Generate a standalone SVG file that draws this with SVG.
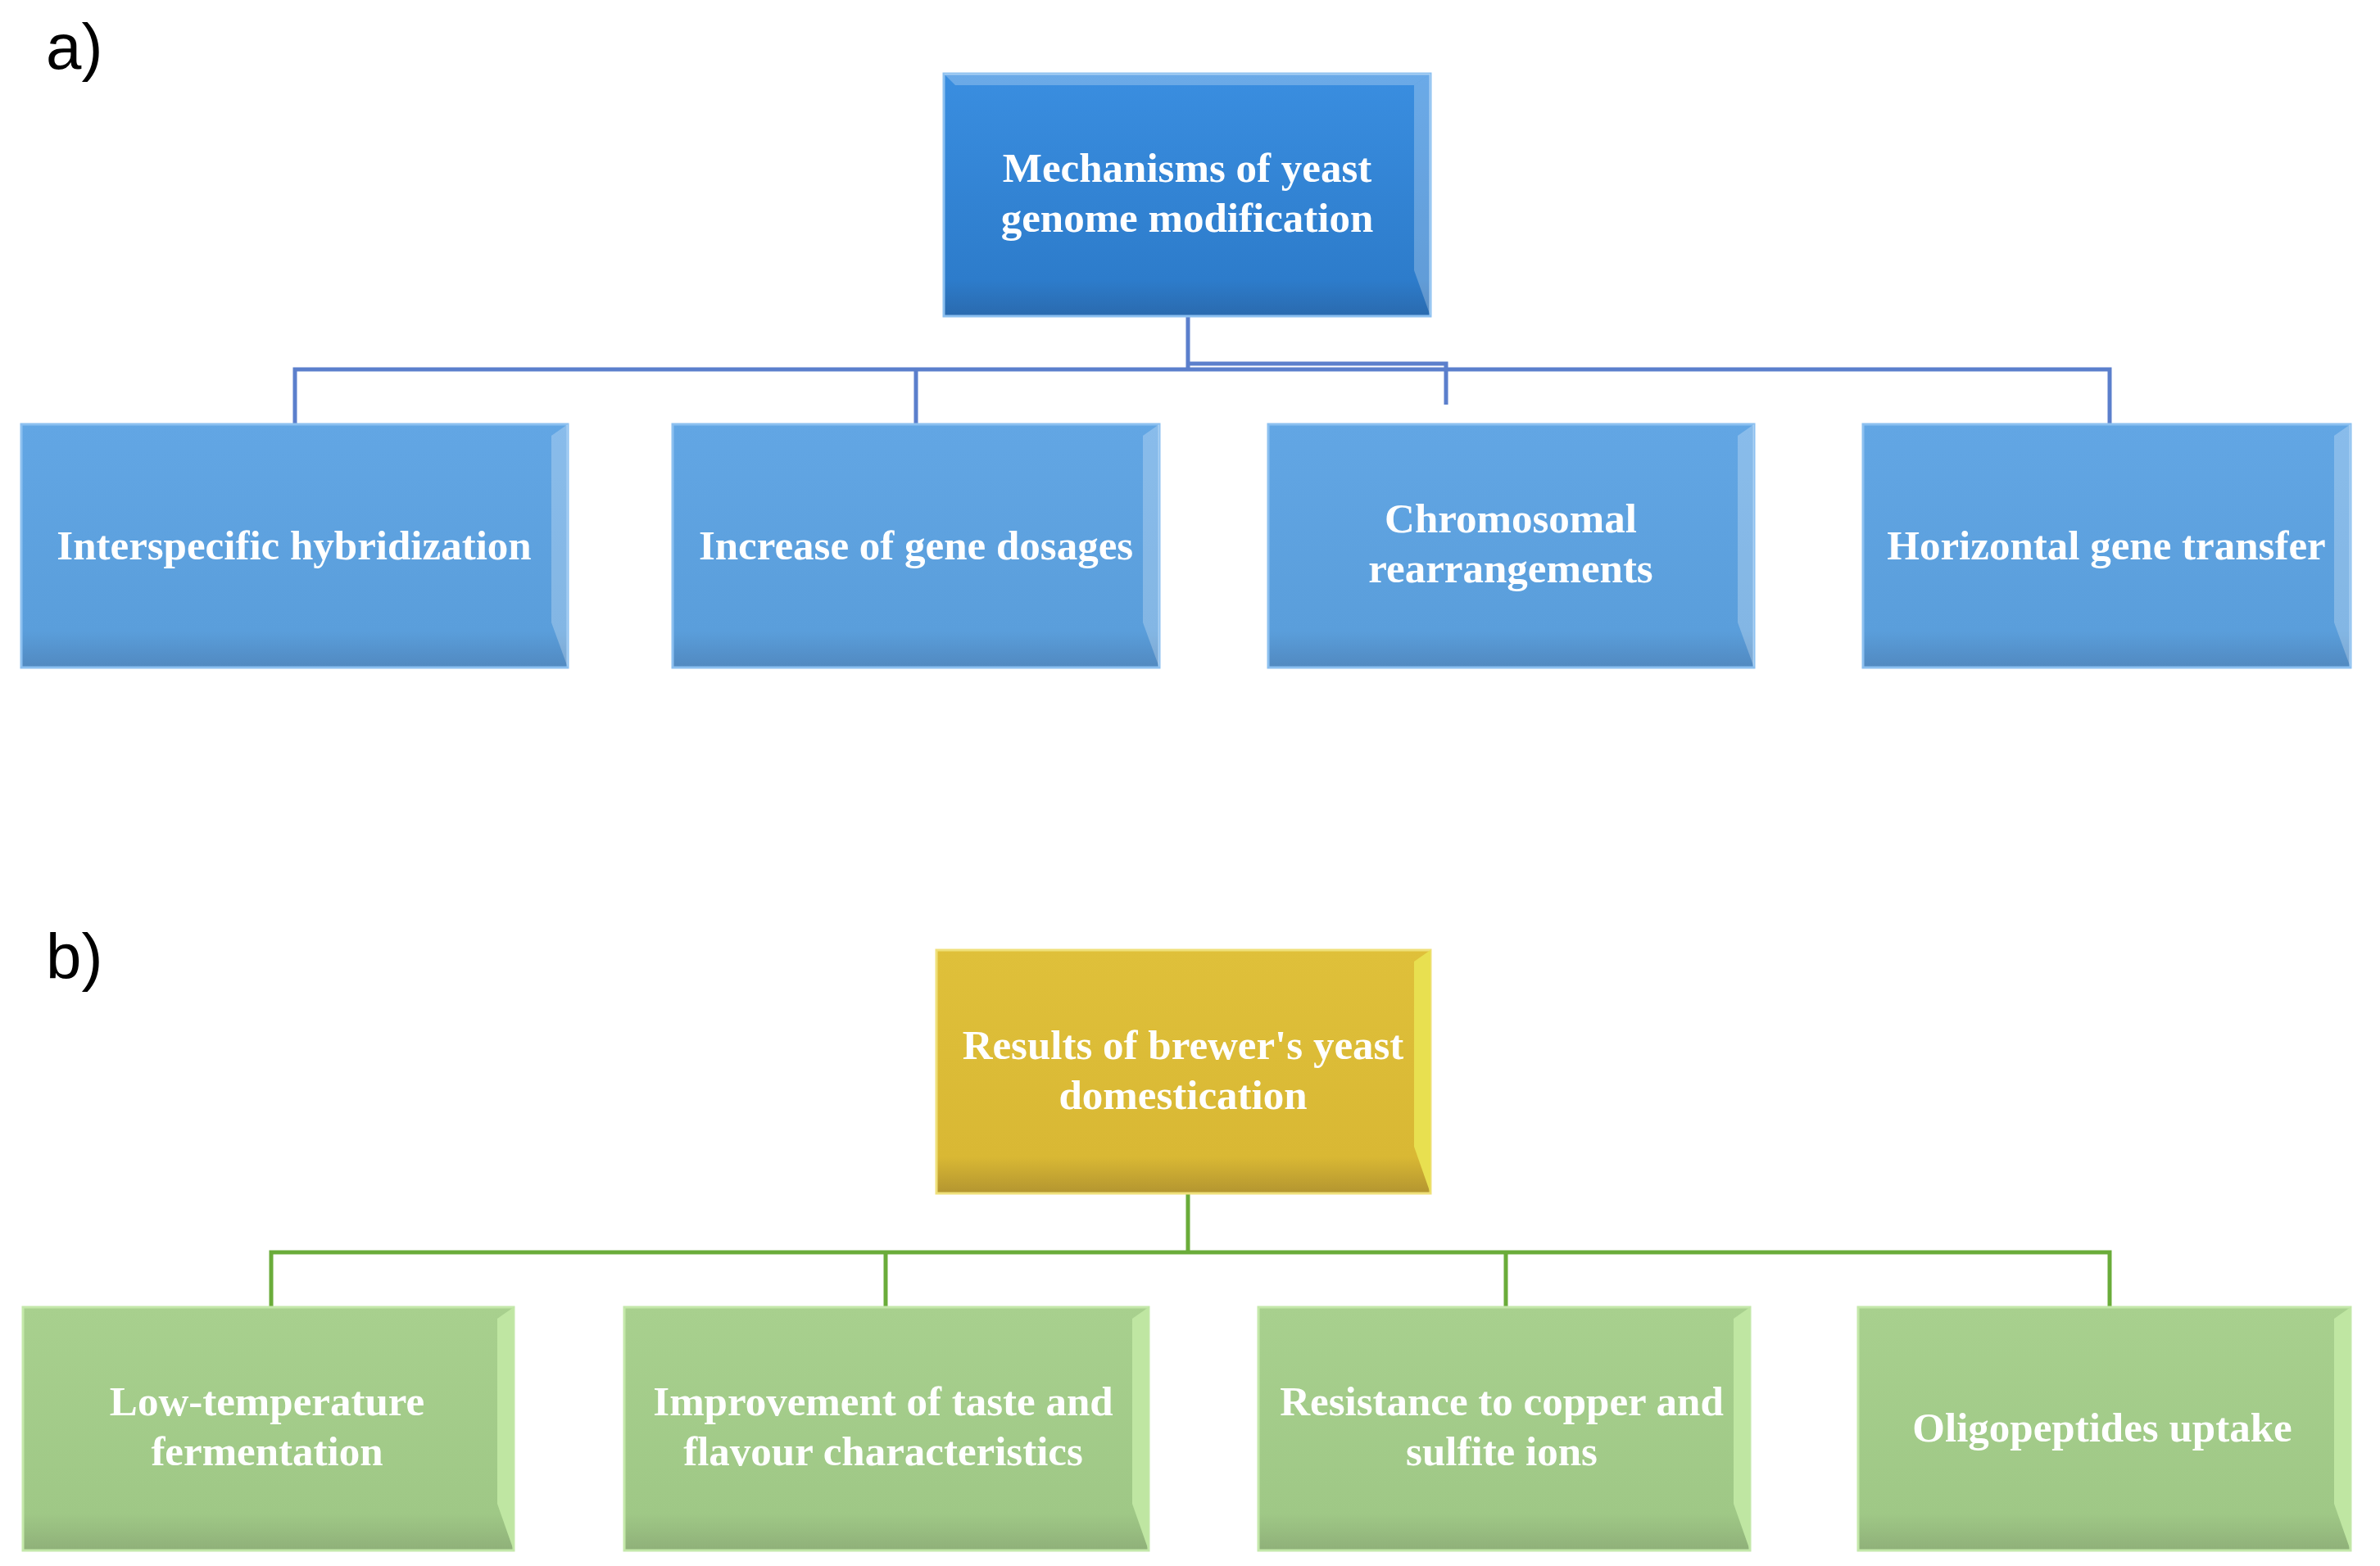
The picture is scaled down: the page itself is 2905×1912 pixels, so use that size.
<svg xmlns="http://www.w3.org/2000/svg" width="2905" height="1912" viewBox="0 0 2905 1912">
<style>
.t{font-family:"Liberation Serif","DejaVu Serif",serif;font-size:51px;font-weight:bold;fill:#fff;text-anchor:middle}
.lab{font-family:"Liberation Sans",Arial,sans-serif;font-size:78px;fill:#000}
.cb{fill:none;stroke:#5b7fcc;stroke-width:5}
.cg{fill:none;stroke:#6aac3a;stroke-width:5}
.hl{fill:#ffffff;opacity:0.25}
</style>
<defs>
<linearGradient id="gTop" x1="0" y1="0" x2="0" y2="1"><stop offset="0" stop-color="#3a8ee0"/><stop offset="0.85" stop-color="#2d7ccb"/><stop offset="1" stop-color="#2a6aae"/></linearGradient>
<linearGradient id="gBl" x1="0" y1="0" x2="0" y2="1"><stop offset="0" stop-color="#62a6e4"/><stop offset="0.85" stop-color="#5a9edb"/><stop offset="1" stop-color="#5189c0"/></linearGradient>
<linearGradient id="gGo" x1="0" y1="0" x2="0" y2="1"><stop offset="0" stop-color="#dfc03a"/><stop offset="0.85" stop-color="#d9b834"/><stop offset="1" stop-color="#b39530"/></linearGradient>
<linearGradient id="gGr" x1="0" y1="0" x2="0" y2="1"><stop offset="0" stop-color="#a8d08e"/><stop offset="0.85" stop-color="#9fc886"/><stop offset="1" stop-color="#8fb079"/></linearGradient>
</defs>
<text class="lab" x="56" y="84">a)</text>
<text class="lab" x="56" y="1195">b)</text>
<g id="connectors">
<path class="cb" d="M1450 386V451M360 518V451H2575V518M1118 451V518M1450 444H1765V494"/>
<path class="cg" d="M1450 1457V1529M331 1596V1529H2575V1596M1081 1529V1596M1838 1529V1596"/>
</g>
<g id="a0"><rect x="1152" y="90" width="594" height="296" fill="url(#gTop)" stroke="#8cc0f0" stroke-width="3"/><polygon class="hl" points="1152,90 1746,90 1726,104 1166,104"/><polygon class="hl" points="1726,104 1746,90 1746,386 1726,330"/>
<text class="t" x="1449" y="222">Mechanisms of yeast</text><text class="t" x="1449" y="283">genome modification</text></g>
<g id="a1"><rect x="26" y="518" width="667" height="297" fill="url(#gBl)" stroke="#8cc0f0" stroke-width="3"/><polygon class="hl" points="673,532 693,518 693,815 673,760"/>
<text class="t" x="359" y="683">Interspecific hybridization</text></g>
<g id="a2"><rect x="821" y="518" width="594" height="297" fill="url(#gBl)" stroke="#8cc0f0" stroke-width="3"/><polygon class="hl" points="1395,532 1415,518 1415,815 1395,760"/>
<text class="t" x="1118" y="683">Increase of gene dosages</text></g>
<g id="a3"><rect x="1548" y="518" width="593" height="297" fill="url(#gBl)" stroke="#8cc0f0" stroke-width="3"/><polygon class="hl" points="2121,532 2141,518 2141,815 2121,760"/>
<text class="t" x="1844" y="650">Chromosomal</text><text class="t" x="1844" y="711">rearrangements</text></g>
<g id="a4"><rect x="2274" y="518" width="595" height="297" fill="url(#gBl)" stroke="#8cc0f0" stroke-width="3"/><polygon class="hl" points="2849,532 2869,518 2869,815 2849,760"/>
<text class="t" x="2571" y="683">Horizontal gene transfer</text></g>
<g id="b0"><rect x="1143" y="1160" width="603" height="297" fill="url(#gGo)" stroke="#efe07a" stroke-width="3"/><polygon fill="#e8e050" points="1726,1174 1746,1160 1746,1457 1726,1400"/>
<text class="t" x="1444" y="1293">Results of brewer's yeast</text><text class="t" x="1444" y="1354">domestication</text></g>
<g id="b1"><rect x="28" y="1596" width="599" height="297" fill="url(#gGr)" stroke="#c4e8aa" stroke-width="3"/><polygon fill="#bfe6a2" points="607,1610 627,1596 627,1893 607,1836"/>
<text class="t" x="326" y="1728">Low-temperature</text><text class="t" x="326" y="1789">fermentation</text></g>
<g id="b2"><rect x="762" y="1596" width="640" height="297" fill="url(#gGr)" stroke="#c4e8aa" stroke-width="3"/><polygon fill="#bfe6a2" points="1382,1610 1402,1596 1402,1893 1382,1836"/>
<text class="t" x="1078" y="1728">Improvement of taste and</text><text class="t" x="1078" y="1789">flavour characteristics</text></g>
<g id="b3"><rect x="1536" y="1596" width="600" height="297" fill="url(#gGr)" stroke="#c4e8aa" stroke-width="3"/><polygon fill="#bfe6a2" points="2116,1610 2136,1596 2136,1893 2116,1836"/>
<text class="t" x="1833" y="1728">Resistance to copper and</text><text class="t" x="1833" y="1789">sulfite ions</text></g>
<g id="b4"><rect x="2268" y="1596" width="601" height="297" fill="url(#gGr)" stroke="#c4e8aa" stroke-width="3"/><polygon fill="#bfe6a2" points="2849,1610 2869,1596 2869,1893 2849,1836"/>
<text class="t" x="2566" y="1760">Oligopeptides uptake</text></g>
</svg>
